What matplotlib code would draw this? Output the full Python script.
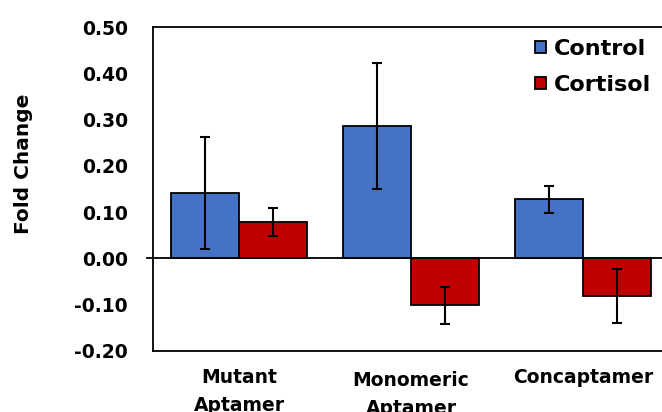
import numpy as np
import matplotlib
matplotlib.use('Agg')
import matplotlib.pyplot as plt
import matplotlib.transforms as mtransforms
from matplotlib.ticker import FormatStrFormatter

plt.rcParams['font.family'] = 'DejaVu Sans'
plt.rcParams['font.weight'] = 'bold'

## data ##
categories = ['Mutant\nAptamer', 'Monomeric\nAptamer', 'Concaptamer']
control = [0.142, 0.286, 0.128]
control_err = [0.121, 0.136, 0.029]
cortisol = [0.078, -0.101, -0.081]
cortisol_err = [0.030, 0.040, 0.059]

blue = '#4472C4'
red = '#C00000'

fig = plt.figure(figsize=(6.62, 4.12), dpi=100)
ax = fig.add_axes([153/662, 61/412, 516/662, 324/412])

x = np.arange(len(categories))
w = 0.397
ekw = dict(ecolor='black', elinewidth=1.5, capsize=3.5, capthick=1.5)
ax.bar(x - w/2, control, w, yerr=control_err, color=blue, edgecolor='black',
       linewidth=1.3, label='Control', error_kw=ekw, zorder=2)
ax.bar(x + w/2, cortisol, w, yerr=cortisol_err, color=red, edgecolor='black',
       linewidth=1.3, label='Cortisol', error_kw=ekw, zorder=2)

ax.axhline(0, xmin=-0.012, xmax=1, color='black', lw=1.3, clip_on=False, zorder=3)

ax.set_xlim(-0.5, 2.5)
ax.set_ylim(-0.20, 0.50)
ax.set_yticks(np.arange(-0.2, 0.51, 0.1))
ax.yaxis.set_major_formatter(FormatStrFormatter('%.2f'))
ax.tick_params(axis='y', length=0, pad=18, labelsize=13.5)
ax.set_xticks(x)
ax.set_xticklabels(categories, fontsize=13.5, linespacing=1.65, va='top')
ax.tick_params(axis='x', length=0, pad=12)
for lab in ax.get_xticklabels():
    lab.set_fontweight('bold')
for lab in ax.get_yticklabels():
    lab.set_fontweight('bold')
# the middle label sits a bit lower in the original
mid = ax.get_xticklabels()[1]
mid.set_transform(mid.get_transform() +
                  mtransforms.ScaledTranslation(0, -3/100, fig.dpi_scale_trans))

for s in ax.spines.values():
    s.set_linewidth(1.3)

ax.set_ylabel('Fold Change', fontsize=14.5, fontweight='bold')
ax.yaxis.set_label_coords(-0.233, 0.577)

leg = ax.legend(loc='upper left', bbox_to_anchor=(535/662, 1 - 39/412),
                bbox_transform=fig.transFigure, frameon=False, fontsize=16,
                handlelength=0.5, handleheight=0.5, handletextpad=0.35,
                labelspacing=0.72, borderpad=0, borderaxespad=0)
for h in leg.legend_handles:
    h.set_linewidth(1.3)

fig.savefig('out.png', dpi=100)
